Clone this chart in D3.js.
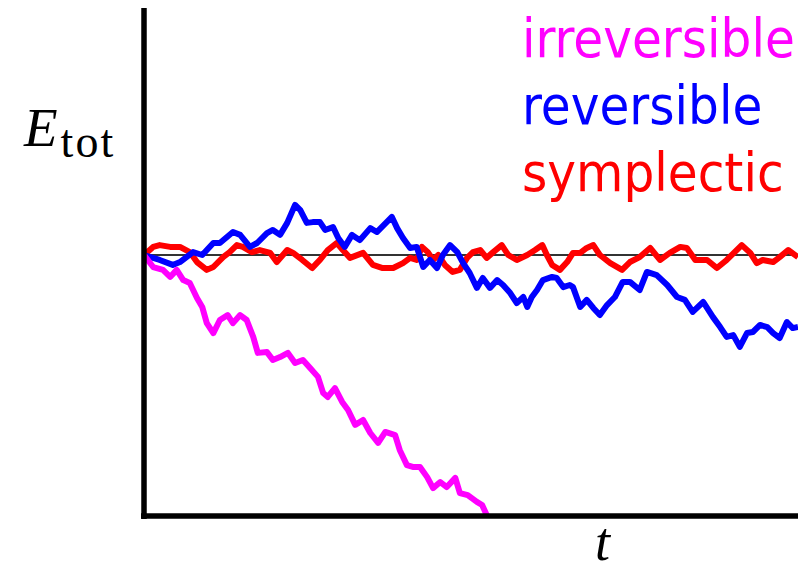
<!DOCTYPE html>
<html>
<head>
<meta charset="utf-8">
<script src="https://cdn.jsdelivr.net/npm/d3@7"></script>
<style>
  html, body { margin: 0; padding: 0; background: #fff; }
  #chart { display: block; }
  .legend-item { font-family: 'DejaVu Sans Condensed', 'DejaVu Sans', sans-serif; font-stretch: condensed; font-size: 54px; }
  .math { font-family: 'Liberation Serif', 'DejaVu Serif', serif; }
</style>
</head>
<body>
<svg id="chart"></svg>
<script>
/* ============================================================
   Energy drift – irreversible / reversible / symplectic
   ============================================================ */

const W = 810, H = 573;

const SERIES_NAMES  = ['irreversible', 'reversible', 'symplectic'];
const SERIES_COLORS = ['#ff00ff', '#0000ff', '#ff0000'];

// irreversible integrator: energy drains away
const tIrr = [0, 0.14, 0.29, 0.40, 0.50, 0.60, 0.70, 0.81, 0.89, 0.96, 1.06, 1.16, 1.28, 1.36, 1.47, 1.57, 1.67, 1.74, 1.88, 1.97,
  2.08, 2.20, 2.31, 2.43, 2.54, 2.66, 2.74, 2.81, 2.92, 3.03, 3.12, 3.23, 3.35, 3.46, 3.58, 3.69, 3.84, 3.91, 4.02, 4.11,
  4.22, 4.33, 4.42, 4.53, 4.63, 4.76, 4.83, 4.95, 5.09, 5.17, 5.24, 5.28];
const eIrr = [0, -0.046, -0.057, -0.084, -0.057, -0.096, -0.107, -0.165, -0.199, -0.261, -0.299, -0.249, -0.230, -0.261, -0.230, -0.249, -0.314, -0.375, -0.372, -0.402,
  -0.391, -0.375, -0.414, -0.402, -0.433, -0.467, -0.529, -0.544, -0.510, -0.563, -0.594, -0.651, -0.632, -0.682, -0.720, -0.678, -0.690, -0.747, -0.805, -0.812,
  -0.812, -0.851, -0.893, -0.870, -0.889, -0.854, -0.912, -0.920, -0.946, -0.958, -0.996, -1.03];

// reversible integrator: random walk
const tRev = [0, 0.24, 0.44, 0.55, 0.75, 0.89, 1.06, 1.16, 1.36, 1.47, 1.62, 1.73, 1.88, 1.97, 2.08, 2.19, 2.31, 2.39, 2.49, 2.58,
  2.69, 2.77, 2.89, 2.97, 3.07, 3.18, 3.30, 3.46, 3.56, 3.79, 3.87, 3.96, 4.07, 4.17, 4.27, 4.37, 4.48, 4.57, 4.68, 4.79,
  4.88, 4.98, 5.09, 5.18, 5.29, 5.40, 5.49, 5.60, 5.70, 5.80, 5.86, 5.93, 6.01, 6.10, 6.24, 6.31, 6.41, 6.51, 6.56, 6.67,
  6.77, 6.87, 6.97, 7.08, 7.20, 7.32, 7.43, 7.58, 7.69, 7.84, 8.00, 8.15, 8.27, 8.39, 8.55, 8.70, 8.81, 8.91, 9.01, 9.11,
  9.22, 9.31, 9.42, 9.53, 9.62, 9.72, 9.83, 9.92, 10.0];
const eRev = [0, -0.019, -0.038, -0.027, 0.011, 0, 0.046, 0.046, 0.088, 0.077, 0.031, 0.046, 0.084, 0.096, 0.077, 0.123, 0.192, 0.172, 0.123, 0.126,
  0.126, 0.096, 0.107, 0.065, 0.031, 0.077, 0.057, 0.103, 0.088, 0.146, 0.103, 0.065, 0.027, 0.031, -0.046, -0.019, -0.050, 0, 0.038, 0.011,
  -0.031, -0.069, -0.126, -0.088, -0.126, -0.096, -0.115, -0.146, -0.184, -0.161, -0.199, -0.161, -0.134, -0.096, -0.084, -0.088, -0.123, -0.115, -0.123, -0.199,
  -0.172, -0.203, -0.230, -0.192, -0.161, -0.103, -0.103, -0.134, -0.065, -0.077, -0.115, -0.161, -0.172, -0.218, -0.180, -0.238, -0.276, -0.314, -0.307, -0.352,
  -0.299, -0.295, -0.268, -0.276, -0.299, -0.318, -0.257, -0.280, -0.276];

// symplectic integrator: bounded oscillation
const tSym = [0, 0.14, 0.24, 0.40, 0.55, 0.70, 0.81, 0.96, 1.06, 1.21, 1.31, 1.42, 1.51, 1.65, 1.77, 1.93, 2.03, 2.19, 2.28, 2.42,
  2.57, 2.69, 2.81, 2.95, 3.04, 3.15, 3.35, 3.50, 3.65, 3.81, 3.96, 4.07, 4.17, 4.25, 4.34, 4.42, 4.50, 4.60, 4.72, 4.83,
  4.94, 5.03, 5.14, 5.24, 5.34, 5.47, 5.57, 5.70, 5.86, 5.98, 6.09, 6.16, 6.24, 6.36, 6.47, 6.56, 6.67, 6.77, 6.87, 6.97,
  7.13, 7.31, 7.43, 7.58, 7.74, 7.89, 8.04, 8.20, 8.30, 8.43, 8.61, 8.76, 8.91, 9.14, 9.27, 9.37, 9.46, 9.62, 9.72, 9.85, 10.0];
const eSym = [0, 0.031, 0.038, 0.031, 0.031, 0.011, -0.027, -0.057, -0.046, -0.008, 0.011, 0.038, 0.031, 0.011, 0.019, 0.008, -0.027, 0.019, 0.008, -0.019,
  -0.050, -0.019, 0.019, 0.046, 0.019, -0.011, 0.008, -0.038, -0.050, -0.050, -0.031, -0.011, -0.019, 0.031, 0.011, -0.019, 0, -0.038, -0.065, -0.057,
  -0.011, 0.011, 0.019, -0.011, 0.011, 0.038, 0, -0.019, 0, 0.019, 0.038, 0, -0.038, -0.057, -0.027, 0.008, 0.008, 0.027, 0.038, 0,
  -0.031, -0.057, -0.027, -0.008, 0.027, -0.019, 0.008, 0.031, 0.027, -0.019, -0.019, -0.050, -0.019, 0.038, 0.008, -0.031, -0.019, -0.027, -0.008, 0.019, -0.008];

const series = [
  { name: SERIES_NAMES[0], color: SERIES_COLORS[0], t: tIrr, e: eIrr },
  { name: SERIES_NAMES[1], color: SERIES_COLORS[1], t: tRev, e: eRev },
  { name: SERIES_NAMES[2], color: SERIES_COLORS[2], t: tSym, e: eSym }
];

const svg = d3.select('#chart').attr('width', W).attr('height', H);

const x = d3.scaleLinear().domain([0, 10]).range([144, 798]);
const y = d3.scaleLinear().domain([-1, 0]).range([516, 255]);

// clip at the axes
svg.append('clipPath').attr('id', 'plot-clip')
  .append('rect')
  .attr('x', x(0)).attr('y', 0)
  .attr('width', x(10) - x(0)).attr('height', y(-1) - 1);

// reference level E = E0
svg.append('line')
  .attr('x1', x(0)).attr('x2', x(10))
  .attr('y1', y(0)).attr('y2', y(0))
  .attr('stroke', '#333').attr('stroke-width', 2);

const line = d3.line().x(d => x(d[0])).y(d => y(d[1]));

const plot = svg.append('g').attr('clip-path', 'url(#plot-clip)');
// draw order: symplectic under, irreversible on top
[series[2], series[1], series[0]].forEach(s => {
  plot.append('path')
    .datum(d3.zip(s.t, s.e))
    .attr('fill', 'none')
    .attr('stroke', s.color)
    .attr('stroke-width', 6)
    .attr('stroke-linejoin', 'round')
    .attr('d', line);
});

// axes: plain lines, no ticks
svg.append('line')
  .attr('x1', x(0)).attr('x2', x(0))
  .attr('y1', 8).attr('y2', y(-1) + 3)
  .attr('stroke', '#000').attr('stroke-width', 5.5);
svg.append('line')
  .attr('x1', x(0) - 3).attr('x2', x(10))
  .attr('y1', y(-1)).attr('y2', y(-1))
  .attr('stroke', '#000').attr('stroke-width', 5.5);

// axis labels
const yl = svg.append('text').attr('class', 'math').attr('x', 24).attr('y', 146);
yl.append('tspan').attr('font-style', 'italic').attr('font-size', 55).text('E');
yl.append('tspan').attr('font-size', 46).attr('dy', 11).attr('dx', 3)
  .attr('letter-spacing', 2).text('tot');

svg.append('text').attr('class', 'math')
  .attr('x', 595).attr('y', 560)
  .attr('font-style', 'italic').attr('font-size', 54)
  .text('t');

// legend
series.forEach((s, i) => {
  svg.append('text')
    .attr('class', 'legend-item')
    .attr('x', 522).attr('y', 57 + i * 67)
    .attr('fill', s.color)
    .text(s.name);
});
</script>
</body>
</html>
